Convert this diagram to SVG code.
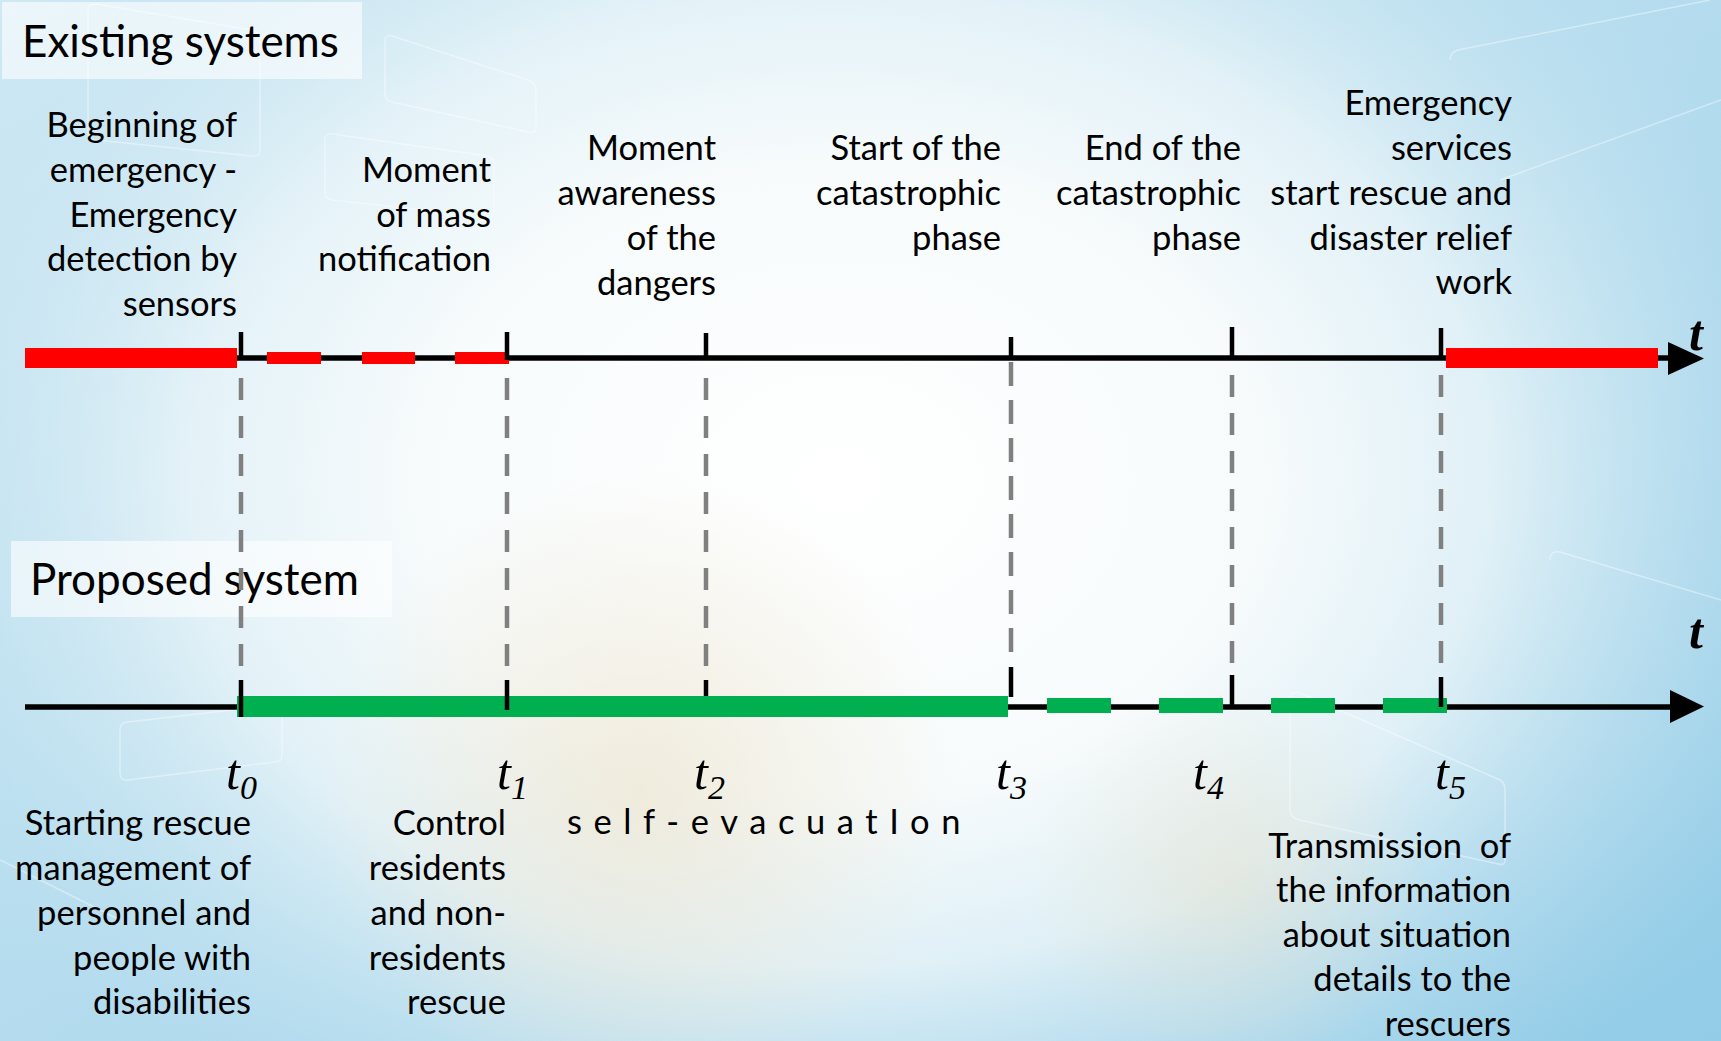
<svg xmlns="http://www.w3.org/2000/svg" width="1721" height="1041" viewBox="0 0 1721 1041">
<defs>
<radialGradient id="glow" gradientUnits="userSpaceOnUse" cx="840" cy="480" r="1050" gradientTransform="translate(840 480) scale(1 0.75) translate(-840 -480)">
<stop offset="0" stop-color="#ffffff" stop-opacity="1"/>
<stop offset="0.4" stop-color="#f7fbfc" stop-opacity="1"/>
<stop offset="0.62" stop-color="#eaf5f9" stop-opacity="0.85"/>
<stop offset="0.82" stop-color="#cfe8f3" stop-opacity="0.4"/>
<stop offset="1" stop-color="#b8ddef" stop-opacity="0"/>
</radialGradient>
<radialGradient id="warm" gradientUnits="userSpaceOnUse" cx="640" cy="790" r="320">
<stop offset="0" stop-color="#eee5cf" stop-opacity="0.7"/>
<stop offset="1" stop-color="#eee5cf" stop-opacity="0"/>
</radialGradient>
<radialGradient id="warm2" gradientUnits="userSpaceOnUse" cx="1230" cy="880" r="200">
<stop offset="0" stop-color="#e9e2cc" stop-opacity="0.5"/>
<stop offset="1" stop-color="#e9e2cc" stop-opacity="0"/>
</radialGradient>
<linearGradient id="base" x1="0" y1="0" x2="1" y2="1">
<stop offset="0" stop-color="#cfe9f4"/>
<stop offset="0.5" stop-color="#b4dcee"/>
<stop offset="1" stop-color="#92cce7"/>
</linearGradient>
<style>
.lbl{font-family:Lato,"Liberation Sans",sans-serif;font-size:34.5px;fill:#000;text-anchor:end}
.ttl{font-family:Lato,"Liberation Sans",sans-serif;font-size:44px;fill:#000}
.box{fill:#ffffff;fill-opacity:0.6}
.tl{font-family:"Liberation Serif",serif;font-style:italic;font-size:50px;fill:#000}
.sub{font-size:34px}
.ax{font-family:"Liberation Serif",serif;font-style:italic;font-weight:bold;font-size:50px;fill:#000}
.axis{stroke:#000;stroke-width:5.5;fill:none}
.tick{stroke:#000;stroke-width:4.5}
.guide{stroke:#808080;stroke-width:4.5;stroke-dasharray:22 16;fill:none}
.deco{fill:none;stroke:#ffffff;stroke-opacity:0.4;stroke-width:1.5}
</style>
</defs>
<g id="background">
<rect width="1721" height="1041" fill="url(#base)"/>
<rect width="1721" height="1041" fill="url(#glow)"/>
<rect width="1721" height="1041" fill="url(#warm)"/>
<rect width="1721" height="1041" fill="url(#warm2)"/>
<path class="deco" d="M88 10 Q88 4 96 4 L252 30 Q260 32 260 40 L260 150 Q260 157 252 156 L96 140 Q88 139 88 132 Z"/>
<path class="deco" d="M385 40 Q385 35 392 36 L528 80 Q536 83 536 90 L536 128 Q536 134 528 132 L392 102 Q385 100 385 94 Z"/>
<path class="deco" d="M325 140 Q325 133 332 134 L488 156 Q494 158 494 165 L494 212 Q494 218 488 217 L332 200 Q325 199 325 192 Z"/>
<path class="deco" d="M1450 60 Q1450 52 1458 50 L1710 0"/>
<path class="deco" d="M120 730 Q120 722 128 722 L275 705 Q282 705 282 712 L282 755 Q282 762 275 762 L128 780 Q120 781 120 773 Z"/>
<path class="deco" d="M1290 700 Q1290 690 1300 693 L1500 780 Q1505 783 1505 790 L1505 860 Q1505 866 1498 864 L1300 820 Q1290 818 1290 810 Z"/>
<path class="deco" d="M1550 560 Q1550 550 1560 552 L1721 600"/>
<path class="deco" d="M0 860 L120 920 M1500 180 L1721 100"/>
</g>
<g id="title-existing">
<rect class="box" x="2" y="2" width="360" height="77"/>
<text class="ttl" x="22" y="57">Existing systems</text>
</g>
<g id="title-proposed">
<rect class="box" x="11" y="541" width="381" height="76"/>
<text class="ttl" x="30" y="595">Proposed system</text>
</g>
<g id="connectors">
<line class="guide" x1="241" y1="378" x2="241" y2="666"/>
<line class="guide" x1="507" y1="378" x2="507" y2="666"/>
<line class="guide" x1="706" y1="378" x2="706" y2="666"/>
<line class="guide" x1="1011" y1="362" x2="1011" y2="652" style="stroke-dasharray:24 14"/>
<line class="guide" x1="1232" y1="375" x2="1232" y2="663"/>
<line class="guide" x1="1441" y1="375" x2="1441" y2="663"/>
</g>
<g id="axis-existing">
<line class="axis" x1="25" y1="358" x2="1672" y2="358"/>
<polygon points="1668,342 1704,358.5 1668,375" fill="#000"/>
<rect x="25" y="348" width="212" height="20" fill="#ff0000"/>
<rect x="267" y="352" width="54" height="12" fill="#ff0000"/>
<rect x="362" y="352" width="53" height="12" fill="#ff0000"/>
<rect x="455" y="352" width="54" height="12" fill="#ff0000"/>
<rect x="1446" y="348" width="212" height="20" fill="#ff0000"/>
<line class="tick" x1="241" y1="332" x2="241" y2="360"/>
<line class="tick" x1="507" y1="332" x2="507" y2="360"/>
<line class="tick" x1="706" y1="333" x2="706" y2="360"/>
<line class="tick" x1="1011" y1="337" x2="1011" y2="360"/>
<line class="tick" x1="1232" y1="327" x2="1232" y2="360"/>
<line class="tick" x1="1441" y1="328" x2="1441" y2="360"/>
<text class="ax" x="1689" y="350">t</text>
</g>
<g id="axis-proposed">
<line class="axis" x1="25" y1="707" x2="1672" y2="707"/>
<polygon points="1670,690 1704,706.5 1670,723" fill="#000"/>
<line class="tick" x1="706" y1="680" x2="706" y2="697"/>
<line class="tick" x1="1011" y1="667" x2="1011" y2="697"/>
<rect x="237" y="696" width="771" height="21" fill="#00b050"/>
<rect x="1047" y="698" width="64" height="15" fill="#00b050"/>
<rect x="1159" y="698" width="64" height="15" fill="#00b050"/>
<rect x="1271" y="698" width="64" height="15" fill="#00b050"/>
<rect x="1383" y="698" width="64" height="15" fill="#00b050"/>
<line class="tick" x1="241" y1="680" x2="241" y2="717"/>
<line class="tick" x1="507" y1="680" x2="507" y2="710"/>
<line class="tick" x1="1232" y1="675" x2="1232" y2="707"/>
<line class="tick" x1="1441" y1="677" x2="1441" y2="707"/>
<text class="ax" x="1689" y="648">t</text>
</g>
<g id="time-labels">
<text class="tl" x="226" y="789">t<tspan class="sub" dy="10">0</tspan></text>
<text class="tl" x="497" y="789">t<tspan class="sub" dy="10">1</tspan></text>
<text class="tl" x="694" y="789">t<tspan class="sub" dy="10">2</tspan></text>
<text class="tl" x="996" y="789">t<tspan class="sub" dy="10">3</tspan></text>
<text class="tl" x="1193" y="789">t<tspan class="sub" dy="10">4</tspan></text>
<text class="tl" x="1435" y="789">t<tspan class="sub" dy="10">5</tspan></text>
</g>
<g id="node-beginning">
<text class="lbl"><tspan x="237" y="137">Beginning of</tspan><tspan x="237" y="182">emergency -</tspan><tspan x="237" y="227">Emergency</tspan><tspan x="237" y="271">detection by</tspan><tspan x="237" y="316">sensors</tspan></text>
</g>
<g id="node-mass-notification">
<text class="lbl"><tspan x="491" y="182">Moment</tspan><tspan x="491" y="227">of mass</tspan><tspan x="491" y="271">notification</tspan></text>
</g>
<g id="node-awareness">
<text class="lbl"><tspan x="716" y="160">Moment</tspan><tspan x="716" y="205">awareness</tspan><tspan x="716" y="250">of the</tspan><tspan x="716" y="295">dangers</tspan></text>
</g>
<g id="node-start-catastrophic">
<text class="lbl"><tspan x="1001" y="160">Start of the</tspan><tspan x="1001" y="205">catastrophic</tspan><tspan x="1001" y="250">phase</tspan></text>
</g>
<g id="node-end-catastrophic">
<text class="lbl"><tspan x="1241" y="160">End of the</tspan><tspan x="1241" y="205">catastrophic</tspan><tspan x="1241" y="250">phase</tspan></text>
</g>
<g id="node-emergency-services">
<text class="lbl"><tspan x="1512" y="115">Emergency</tspan><tspan x="1512" y="160">services</tspan><tspan x="1512" y="205">start rescue and</tspan><tspan x="1512" y="250">disaster relief</tspan><tspan x="1512" y="294">work</tspan></text>
</g>
<g id="node-starting-rescue">
<text class="lbl"><tspan x="251" y="835">Starting rescue</tspan><tspan x="251" y="880">management of</tspan><tspan x="251" y="925">personnel and</tspan><tspan x="251" y="970">people with</tspan><tspan x="251" y="1014">disabilities</tspan></text>
</g>
<g id="node-control-residents">
<text class="lbl"><tspan x="506" y="835">Control</tspan><tspan x="506" y="880">residents</tspan><tspan x="506" y="925">and non-</tspan><tspan x="506" y="970">residents</tspan><tspan x="506" y="1014">rescue</tspan></text>
</g>
<g id="node-self-evacuation">
<text class="lbl" x="567" y="834" style="text-anchor:start;letter-spacing:11.6px">self-evacuatIon</text>
</g>
<g id="node-transmission">
<text class="lbl" style="white-space:pre"><tspan x="1511" y="858">Transmission  of</tspan><tspan x="1511" y="902">the information</tspan><tspan x="1511" y="947">about situation</tspan><tspan x="1511" y="991">details to the</tspan><tspan x="1511" y="1036">rescuers</tspan></text>
</g>
</svg>
